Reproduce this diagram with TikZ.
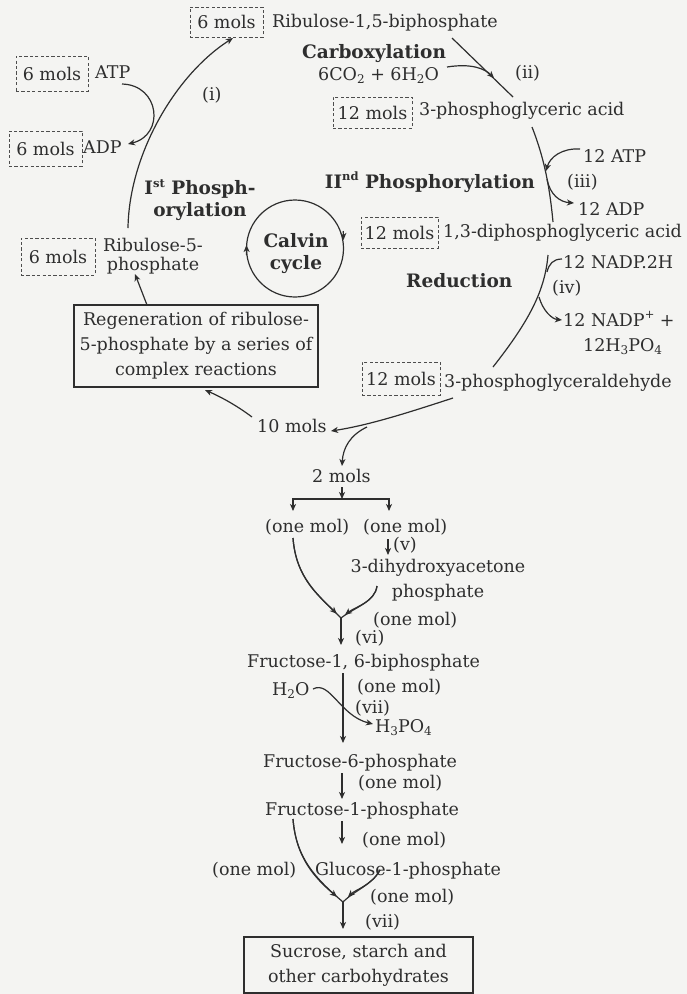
\documentclass[tikz,border=0pt]{standalone}
\usepackage{fontspec}
\setmainfont{DejaVu Serif}
\usetikzlibrary{arrows.meta}
\definecolor{ink}{HTML}{2E2E2E}
\definecolor{pagebg}{HTML}{F4F4F2}
\newcommand\mysub[1]{\raisebox{-0.35ex}{\fontsize{12}{12}\selectfont #1}}
\newcommand\mysup[1]{\raisebox{0.8ex}{\fontsize{11.5}{11.5}\selectfont #1}}
\begin{document}
\begin{tikzpicture}[x=1pt,y=-1pt,
  every node/.style={inner sep=0pt, text=ink, font=\fontsize{17.5}{25}\selectfont},
  txt/.style={anchor=base west},
  boldtxt/.style={font=\fontsize{18.5}{22}\selectfont\bfseries},
  molbox/.style={draw=ink!85, dash pattern=on 3.2pt off 2.2pt, line width=0.9pt},
  solidbox/.style={draw=ink, line width=1.1pt, align=center},
  ln/.style={line width=1.2pt, draw=ink},
  tip/.tip={Stealth[length=7pt,width=6pt,inset=2pt]},
  arr/.style={ln, -tip},
  tipat/.style={postaction={decorate}, decoration={markings, mark=at position #1 with {\arrow{tip}}}},
]
\path[fill=pagebg] (0,0) rectangle (687,994);
\useasboundingbox (0,0) rectangle (687,994);

% ---------- upper right ----------
\node[molbox, minimum width=73pt, minimum height=30pt] (b6top) at (226.5,22) {6 mols};
\node[txt] (rubp) at (272,27) {Ribulose-1,5-biphosphate};
\node[boldtxt, anchor=base] (carb) at (374,58) {Carboxylation};
\node[txt] (co2) at (318,80) {6CO\mysub{2} + 6H\mysub{2}O};
\node[txt] (ii) at (515,78) {(ii)};
\node[molbox, minimum width=79pt, minimum height=31pt] (b12a) at (372.5,112.5) {12 mols};
\node[txt] (pga) at (419,115) {3-phosphoglyceric acid};
\node[txt] (atp12) at (583,162) {12 ATP};
\node[boldtxt, anchor=base east] (ph2) at (535,188) {II\mysup{nd} Phosphorylation};
\node[txt] (iii) at (567,187) {(iii)};
\node[txt] (adp12) at (578,215) {12 ADP};
\node[molbox, minimum width=77pt, minimum height=31pt] (b12b) at (399.5,232.5) {12 mols};
\node[txt] (dpga) at (443,237) {1,3-diphosphoglyceric acid};
\node[txt] (nadph) at (563,268) {12 NADP.2H};
\node[boldtxt, anchor=base west] (red) at (406,287) {Reduction};
\node[txt] (iv) at (552,293) {(iv)};
\node[txt] (nadp) at (563,326) {12 NADP\mysup{+} +};
\node[txt] (hpo) at (583,351) {12H\mysub{3}PO\mysub{4}};
\node[molbox, minimum width=78pt, minimum height=33pt] (b12c) at (401,378.5) {12 mols};
\node[txt] (pgald) at (444,387) {3-phosphoglyceraldehyde};

% ---------- upper left ----------
\node[molbox, minimum width=72pt, minimum height=35pt] (b6atp) at (52,73.5) {6 mols};
\node[txt] (atp) at (95,78) {ATP};
\node[txt] (i) at (202,100) {(i)};
\node[molbox, minimum width=73pt, minimum height=35pt] (b6adp) at (45.5,148.5) {6 mols};
\node[txt] (adp) at (83,153) {ADP};
\node[boldtxt, align=center] (ph1) at (200,200) {I\mysup{st} Phosph-\\orylation};
\node[molbox, minimum width=74pt, minimum height=37pt] (b6r5) at (58,256.5) {6 mols};
\node[align=center, font=\fontsize{17.5}{19}\selectfont] (r5p) at (153,255.9) {Ribulose-5-\\phosphate};
\node[circle, ln, minimum size=97pt] (ring) at (295,248.5) {};
\node[boldtxt, align=center] (calvin) at (296,254) {Calvin\\cycle};
\node[solidbox, minimum width=244pt, minimum height=82pt] (regen) at (196,346)
  {Regeneration of ribulose-\\5-phosphate by a series of\\complex reactions};

% ---------- lower part ----------
\node[txt] (m10) at (257,432) {10 mols};
\node[txt] (m2) at (312,482) {2 mols};
\node[txt] (omA) at (265,532) {(one mol)};
\node[txt] (omB) at (363,532) {(one mol)};
\node[txt] (v) at (393,550) {(v)};
\node[align=center] (dhap) at (438,579.9) {3-dihydroxyacetone\\phosphate};
\node[txt] (omC) at (373,625) {(one mol)};
\node[txt] (vi) at (355,643) {(vi)};
\node[txt] (f16) at (247,667) {Fructose-1, 6-biphosphate};
\node[txt] (h2o) at (272,695) {H\mysub{2}O};
\node[txt] (omD) at (357,692) {(one mol)};
\node[txt] (vii) at (355,713) {(vii)};
\node[txt] (hpo2) at (375,732) {H\mysub{3}PO\mysub{4}};
\node[txt] (f6) at (263,767) {Fructose-6-phosphate};
\node[txt] (omE) at (358,788) {(one mol)};
\node[txt] (f1) at (265,815) {Fructose-1-phosphate};
\node[txt] (omF) at (362,845) {(one mol)};
\node[txt] (g1) at (315,875) {Glucose-1-phosphate};
\node[txt] (omG) at (212,875) {(one mol)};
\node[txt] (omH) at (370,902) {(one mol)};
\node[txt] (vii2) at (365,927) {(vii)};
\node[solidbox, minimum width=229pt, minimum height=56pt] (final) at (358.5,965)
  {Sucrose, starch and\\other carbohydrates};

% ---------- connector end points ----------
\coordinate (pA1) at (128,228);   \coordinate (pA2) at (233,38);
\coordinate (pB1) at (122,84);    \coordinate (pB2) at (128,144);
\coordinate (pC1) at (452,38);    \coordinate (pC2) at (513,97);
\coordinate (pC3) at (447,67);    \coordinate (pC4) at (494,78);
\coordinate (pD1) at (532,127);   \coordinate (pD2) at (553,222);
\coordinate (pD3) at (580,149);   \coordinate (pD4) at (546,171);
\coordinate (pD5) at (547,179);   \coordinate (pD6) at (574,203);
\coordinate (pE1) at (493,367);   \coordinate (pE2) at (548,255);
\coordinate (pE3) at (562,259);   \coordinate (pE4) at (547,272);
\coordinate (pE5) at (539,297);   \coordinate (pE6) at (562,320);
\coordinate (pF1) at (453,398);   \coordinate (pF2) at (331,431);
\coordinate (pF3) at (367,427);   \coordinate (pF4) at (342,466);
\coordinate (pG1) at (342,487);   \coordinate (pG2) at (342,499);
\coordinate (pG3) at (293,511);   \coordinate (pG4) at (389,511);
\coordinate (pH1) at (388,539);   \coordinate (pH2) at (388,555);
\coordinate (pI1) at (293,538);   \coordinate (pI2) at (377,586);
\coordinate (j1) at (341,618);    \coordinate (pI3) at (341,645);
\coordinate (pJ1) at (343,673);   \coordinate (pJ2) at (343,743);
\coordinate (pK1) at (313,689);   \coordinate (pK2) at (373,724);
\coordinate (pL1) at (342,773);   \coordinate (pL2) at (342,799);
\coordinate (pM1) at (342,821);   \coordinate (pM2) at (342,844);
\coordinate (pN1) at (293,819);   \coordinate (pN2) at (380,870);
\coordinate (j2) at (343,902);    \coordinate (pN3) at (343,929);
\coordinate (pO1) at (147,305);   \coordinate (pO2) at (135,274);
\coordinate (pP1) at (252,417);   \coordinate (pP2) at (205,390);
\coordinate (pR1) at (343.3,231); \coordinate (pR2) at (343.5,240);
\coordinate (pR3) at (246.6,255); \coordinate (pR4) at (246.5,245);

% ---------- connectors ----------
\draw[arr] (pA1) .. controls (129,155) and (175,75) .. (pA2);
\draw[arr] (pB1) .. controls (160,85) and (165,135) .. (pB2);
\draw[ln] (pC1) -- (pC2);
\draw[arr] (pC3) .. controls (472,63) and (485,69) .. (pC4);
\draw[ln] (pD1) .. controls (545,160) and (550,190) .. (pD2);
\draw[arr] (pD3) .. controls (562,148) and (550,157) .. (pD4);
\draw[arr] (pD5) .. controls (550,195) and (560,202) .. (pD6);
\draw[ln] (pE1) .. controls (530,320) and (545,290) .. (pE2);
\draw[ln] (pE3) .. controls (553,259) and (549,264) .. (pE4);
\draw[arr] (pE5) .. controls (543,311) and (552,319) .. (pE6);
\draw[arr] (pF1) .. controls (410,412) and (370,425) .. (pF2);
\draw[arr] (pF3) .. controls (350,435) and (343,448) .. (pF4);
\draw[arr] (pG1) -- (pG2);
\draw[ln, tip-tip] (pG3) |- (pG2) -| (pG4);
\draw[arr] (pH1) -- (pH2);
\draw[ln, -tip, shorten >=6pt] (pI1) .. controls (296,578) and (318,595) .. (j1);
\draw[ln, -tip, shorten >=5pt] (pI2) .. controls (375,602) and (355,607) .. (j1);
\draw[ln] (pI1) .. controls (296,578) and (318,595) .. (j1);
\draw[ln] (pI2) .. controls (375,602) and (355,607) .. (j1);
\draw[arr] (j1) -- (pI3);
\draw[arr] (pJ1) -- (pJ2);
\draw[arr] (pK1) .. controls (330,680) and (340,716) .. (pK2);
\draw[arr] (pL1) -- (pL2);
\draw[arr] (pM1) -- (pM2);
\draw[ln, -tip, shorten >=8pt] (pN1) .. controls (296,858) and (315,878) .. (j2);
\draw[ln, -tip, shorten >=7pt] (pN2) .. controls (372,885) and (355,890) .. (j2);
\draw[ln] (pN1) .. controls (296,858) and (315,878) .. (j2);
\draw[ln] (pN2) .. controls (372,885) and (355,890) .. (j2);
\draw[arr] (j2) -- (pN3);
\draw[arr] (pO1) -- (pO2);
\draw[arr] (pP1) .. controls (236,405) and (221,397) .. (pP2);
% arrowheads on the Calvin ring
\draw[arr] (pR1) -- (pR2);
\draw[arr] (pR3) -- (pR4);
\end{tikzpicture}
\end{document}
